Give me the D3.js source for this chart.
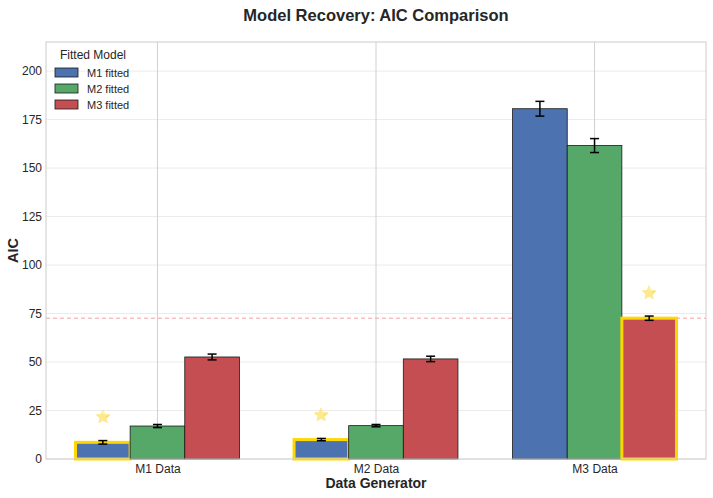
<!DOCTYPE html>
<html>
<head>
<meta charset="utf-8">
<script src="https://cdn.jsdelivr.net/npm/d3@7"></script>
<style>
  body { margin: 0; background: #fff; }
  text { font-family: Arial, "Liberation Sans", sans-serif; }
</style>
</head>
<body>
<div class="canva"></div>
<script>
// Model recovery bar chart
const generators = ['M1 Data', 'M2 Data', 'M3 Data'];
const models = ['M1 fitted', 'M2 fitted', 'M3 fitted'];
const colors = ['#4c72b0', '#55a868', '#c44e52'];

// AIC per generator (rows) and fitted model (cols)
const aicM1 = [8.6, 17.0, 52.6];
const aicM2 = [10.0, 17.2, 51.6];
const aicM3 = [180.6, 161.6, 72.6];
const errM1 = [0.9, 0.8, 1.5];
const errM2 = [0.6, 0.6, 1.4];
const errM3 = [3.8, 3.6, 1.1];
const bestIdx = [0, 0, 2];   // model with lowest AIC per generator
const refLine = 72.6;
const yTicks = [0, 25, 50, 75, 100, 125, 150, 175, 200];

const aic = [aicM1, aicM2, aicM3];
const err = [errM1, errM2, errM3];

const W = 713, H = 498;
const margin = {top: 42, right: 7, bottom: 39, left: 46};
const gw = W - margin.left - margin.right;
const gh = H - margin.top - margin.bottom;

const svg = d3.select('.canva').append('svg')
    .attr('width', W).attr('height', H);

const g = svg.append('g')
    .attr('transform', `translate(${margin.left},${margin.top})`);

const x = d3.scaleLinear().domain([-0.51, 2.51]).range([0, gw]);
const y = d3.scaleLinear().domain([0, 215]).range([gh, 0]);
const bw = 0.25;

// grid
g.selectAll('.hgrid').data(yTicks).enter().append('line')
    .attr('x1', 0).attr('x2', gw)
    .attr('y1', d => y(d)).attr('y2', d => y(d))
    .attr('stroke', '#ebebeb').attr('stroke-width', 1);
g.selectAll('.vgrid').data(generators).enter().append('line')
    .attr('x1', (d, i) => x(i)).attr('x2', (d, i) => x(i))
    .attr('y1', 0).attr('y2', gh)
    .attr('stroke', '#d0d0d0').attr('stroke-width', 1);

// reference line
g.append('line')
    .attr('x1', 0).attr('x2', gw)
    .attr('y1', y(refLine)).attr('y2', y(refLine))
    .attr('stroke', '#f2a0a2').attr('stroke-width', 1)
    .attr('stroke-dasharray', '4,3');

// bars
const rows = [];
generators.forEach((gen, i) => {
  models.forEach((m, j) => {
    rows.push({i, j, v: aic[i][j], e: err[i][j], best: bestIdx[i] === j});
  });
});
const cx = d => x(d.i + (d.j - 1) * bw);

g.selectAll('.bar').data(rows).enter().append('rect')
    .attr('x', d => x(d.i + (d.j - 1.5) * bw))
    .attr('width', x(bw) - x(0))
    .attr('y', d => y(d.v))
    .attr('height', d => gh - y(d.v))
    .attr('fill', d => colors[d.j])
    .attr('stroke', d => d.best ? '#ffd700' : '#1a1a1a')
    .attr('stroke-width', d => d.best ? 3 : 0.8);

// error bars
const eb = g.selectAll('.err').data(rows).enter().append('g');
eb.append('line')
    .attr('x1', cx).attr('x2', cx)
    .attr('y1', d => y(d.v - d.e)).attr('y2', d => y(d.v + d.e))
    .attr('stroke', '#000').attr('stroke-width', 1.5);
eb.append('line')
    .attr('x1', d => cx(d) - 4.5).attr('x2', d => cx(d) + 4.5)
    .attr('y1', d => y(d.v - d.e)).attr('y2', d => y(d.v - d.e))
    .attr('stroke', '#000').attr('stroke-width', 1.5);
eb.append('line')
    .attr('x1', d => cx(d) - 4.5).attr('x2', d => cx(d) + 4.5)
    .attr('y1', d => y(d.v + d.e)).attr('y2', d => y(d.v + d.e))
    .attr('stroke', '#000').attr('stroke-width', 1.5);

// star markers over best model
g.selectAll('.star').data(rows.filter(d => d.best)).enter().append('text')
    .attr('x', cx)
    .attr('y', d => y(d.v) - 21)
    .attr('text-anchor', 'middle')
    .attr('font-size', 13)
    .attr('fill', '#ffd700')
    .attr('opacity', 0.55)
    .text('\u2B50');

// frame
g.append('rect').attr('width', gw).attr('height', gh)
    .attr('fill', 'none').attr('stroke', '#cccccc').attr('stroke-width', 1);

// axes
const yAxis = d3.axisLeft(y).tickValues(yTicks).tickSize(0).tickPadding(4);
const xAxis = d3.axisBottom(x).tickValues([0, 1, 2])
    .tickFormat(d => generators[d]).tickSize(0).tickPadding(5);
const ya = g.append('g').call(yAxis);
const xa = g.append('g').attr('transform', `translate(0,${gh})`).call(xAxis);
[ya, xa].forEach(a => {
  a.select('.domain').remove();
  a.selectAll('text').attr('font-size', 12).attr('fill', '#262626')
      .style('font-family', 'Arial, "Liberation Sans", sans-serif');
});

// labels
svg.append('text').attr('x', margin.left + gw / 2).attr('y', 21)
    .attr('text-anchor', 'middle').attr('font-size', 16.5).attr('font-weight', 'bold')
    .attr('fill', '#262626').text('Model Recovery: AIC Comparison');
svg.append('text').attr('x', margin.left + gw / 2).attr('y', 488)
    .attr('text-anchor', 'middle').attr('font-size', 14).attr('font-weight', 'bold')
    .attr('fill', '#262626').text('Data Generator');
svg.append('text').attr('transform', `translate(18,${margin.top + gh / 2}) rotate(-90)`)
    .attr('text-anchor', 'middle').attr('font-size', 14.5).attr('font-weight', 'bold')
    .attr('fill', '#262626').text('AIC');

// legend
const leg = svg.append('g').attr('transform', 'translate(55,48)');
leg.append('text').attr('x', 5).attr('y', 11).attr('font-size', 12)
    .attr('fill', '#262626').text('Fitted Model');
models.forEach((m, j) => {
  const r = leg.append('g').attr('transform', `translate(0,${20 + j * 16})`);
  r.append('rect').attr('width', 23).attr('height', 9)
      .attr('fill', colors[j]).attr('stroke', '#1a1a1a').attr('stroke-width', 0.8);
  r.append('text').attr('x', 32).attr('y', 9).attr('font-size', 11)
      .attr('fill', '#262626').text(m);
});
</script>
</body>
</html>
